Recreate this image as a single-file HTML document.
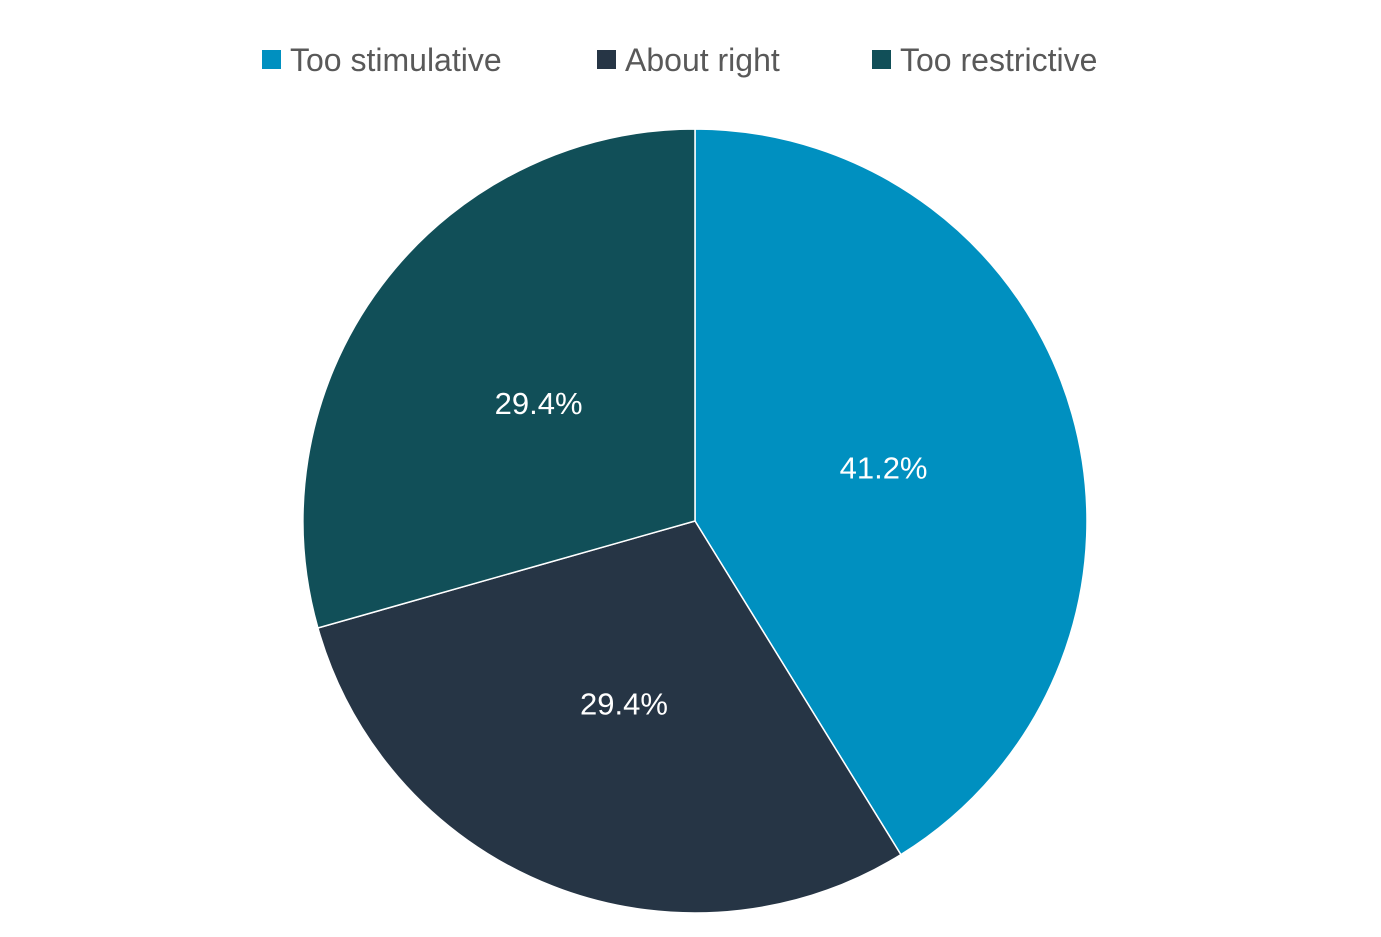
<!DOCTYPE html>
<html><head><meta charset="utf-8"><style>
html,body{margin:0;padding:0;background:#fff;}
svg{display:block;font-family:"Liberation Sans",sans-serif;}
</style></head><body>
<svg id="chart" width="1381" height="937" viewBox="0 0 1381 937">
  <g id="legend"></g>
  <g id="slices"></g>
  <g id="labels"></g>
</svg>
<script>
const categories = ["Too stimulative", "About right", "Too restrictive"];
const values = [41.2, 29.4, 29.4];
const labels = ["41.2%", "29.4%", "29.4%"];
const colors = ["#0090c0", "#263545", "#114f58"];

const NS = "http://www.w3.org/2000/svg";
const cx = 695, cy = 521, R = 392;
const total = values.reduce((a, b) => a + b, 0);
function pt(frac, r) {
  const a = frac * 2 * Math.PI;
  return [cx + r * Math.sin(a), cy - r * Math.cos(a)];
}
const sg = document.getElementById("slices");
const lg = document.getElementById("labels");
let acc = 0;
values.forEach((v, i) => {
  const f0 = acc / total, f1 = (acc + v) / total;
  acc += v;
  const [x0, y0] = pt(f0, R), [x1, y1] = pt(f1, R);
  const large = (f1 - f0) > 0.5 ? 1 : 0;
  const p = document.createElementNS(NS, "path");
  p.setAttribute("d", `M${cx},${cy} L${x0},${y0} A${R},${R} 0 ${large} 1 ${x1},${y1} Z`);
  p.setAttribute("fill", colors[i]);
  p.setAttribute("stroke", "#fff");
  p.setAttribute("stroke-width", "1.5");
  
  
  sg.appendChild(p);
  const [lx, ly] = pt((f0 + f1) / 2, R * 0.5);
  const t = document.createElementNS(NS, "text");
  t.setAttribute("x", lx);
  t.setAttribute("y", ly + 11);
  t.setAttribute("text-anchor", "middle");
  t.setAttribute("fill", "#fff");
  t.setAttribute("font-size", "31");
  t.textContent = labels[i];
  
  
  lg.appendChild(t);
});
// legend
const leg = document.getElementById("legend");
const legX = [262, 597, 872];
categories.forEach((c, i) => {
  const g = document.createElementNS(NS, "g");
  
  
  const r = document.createElementNS(NS, "rect");
  r.setAttribute("x", legX[i]); r.setAttribute("y", 50);
  r.setAttribute("width", 19); r.setAttribute("height", 19);
  r.setAttribute("fill", colors[i]);
  
  
  const t = document.createElementNS(NS, "text");
  t.setAttribute("x", legX[i] + 28); t.setAttribute("y", 71);
  t.setAttribute("font-size", "32");
  t.setAttribute("fill", "#595959");
  t.textContent = c;
  
  
  g.appendChild(r); g.appendChild(t);
  leg.appendChild(g);
});
</script>
</body></html>
